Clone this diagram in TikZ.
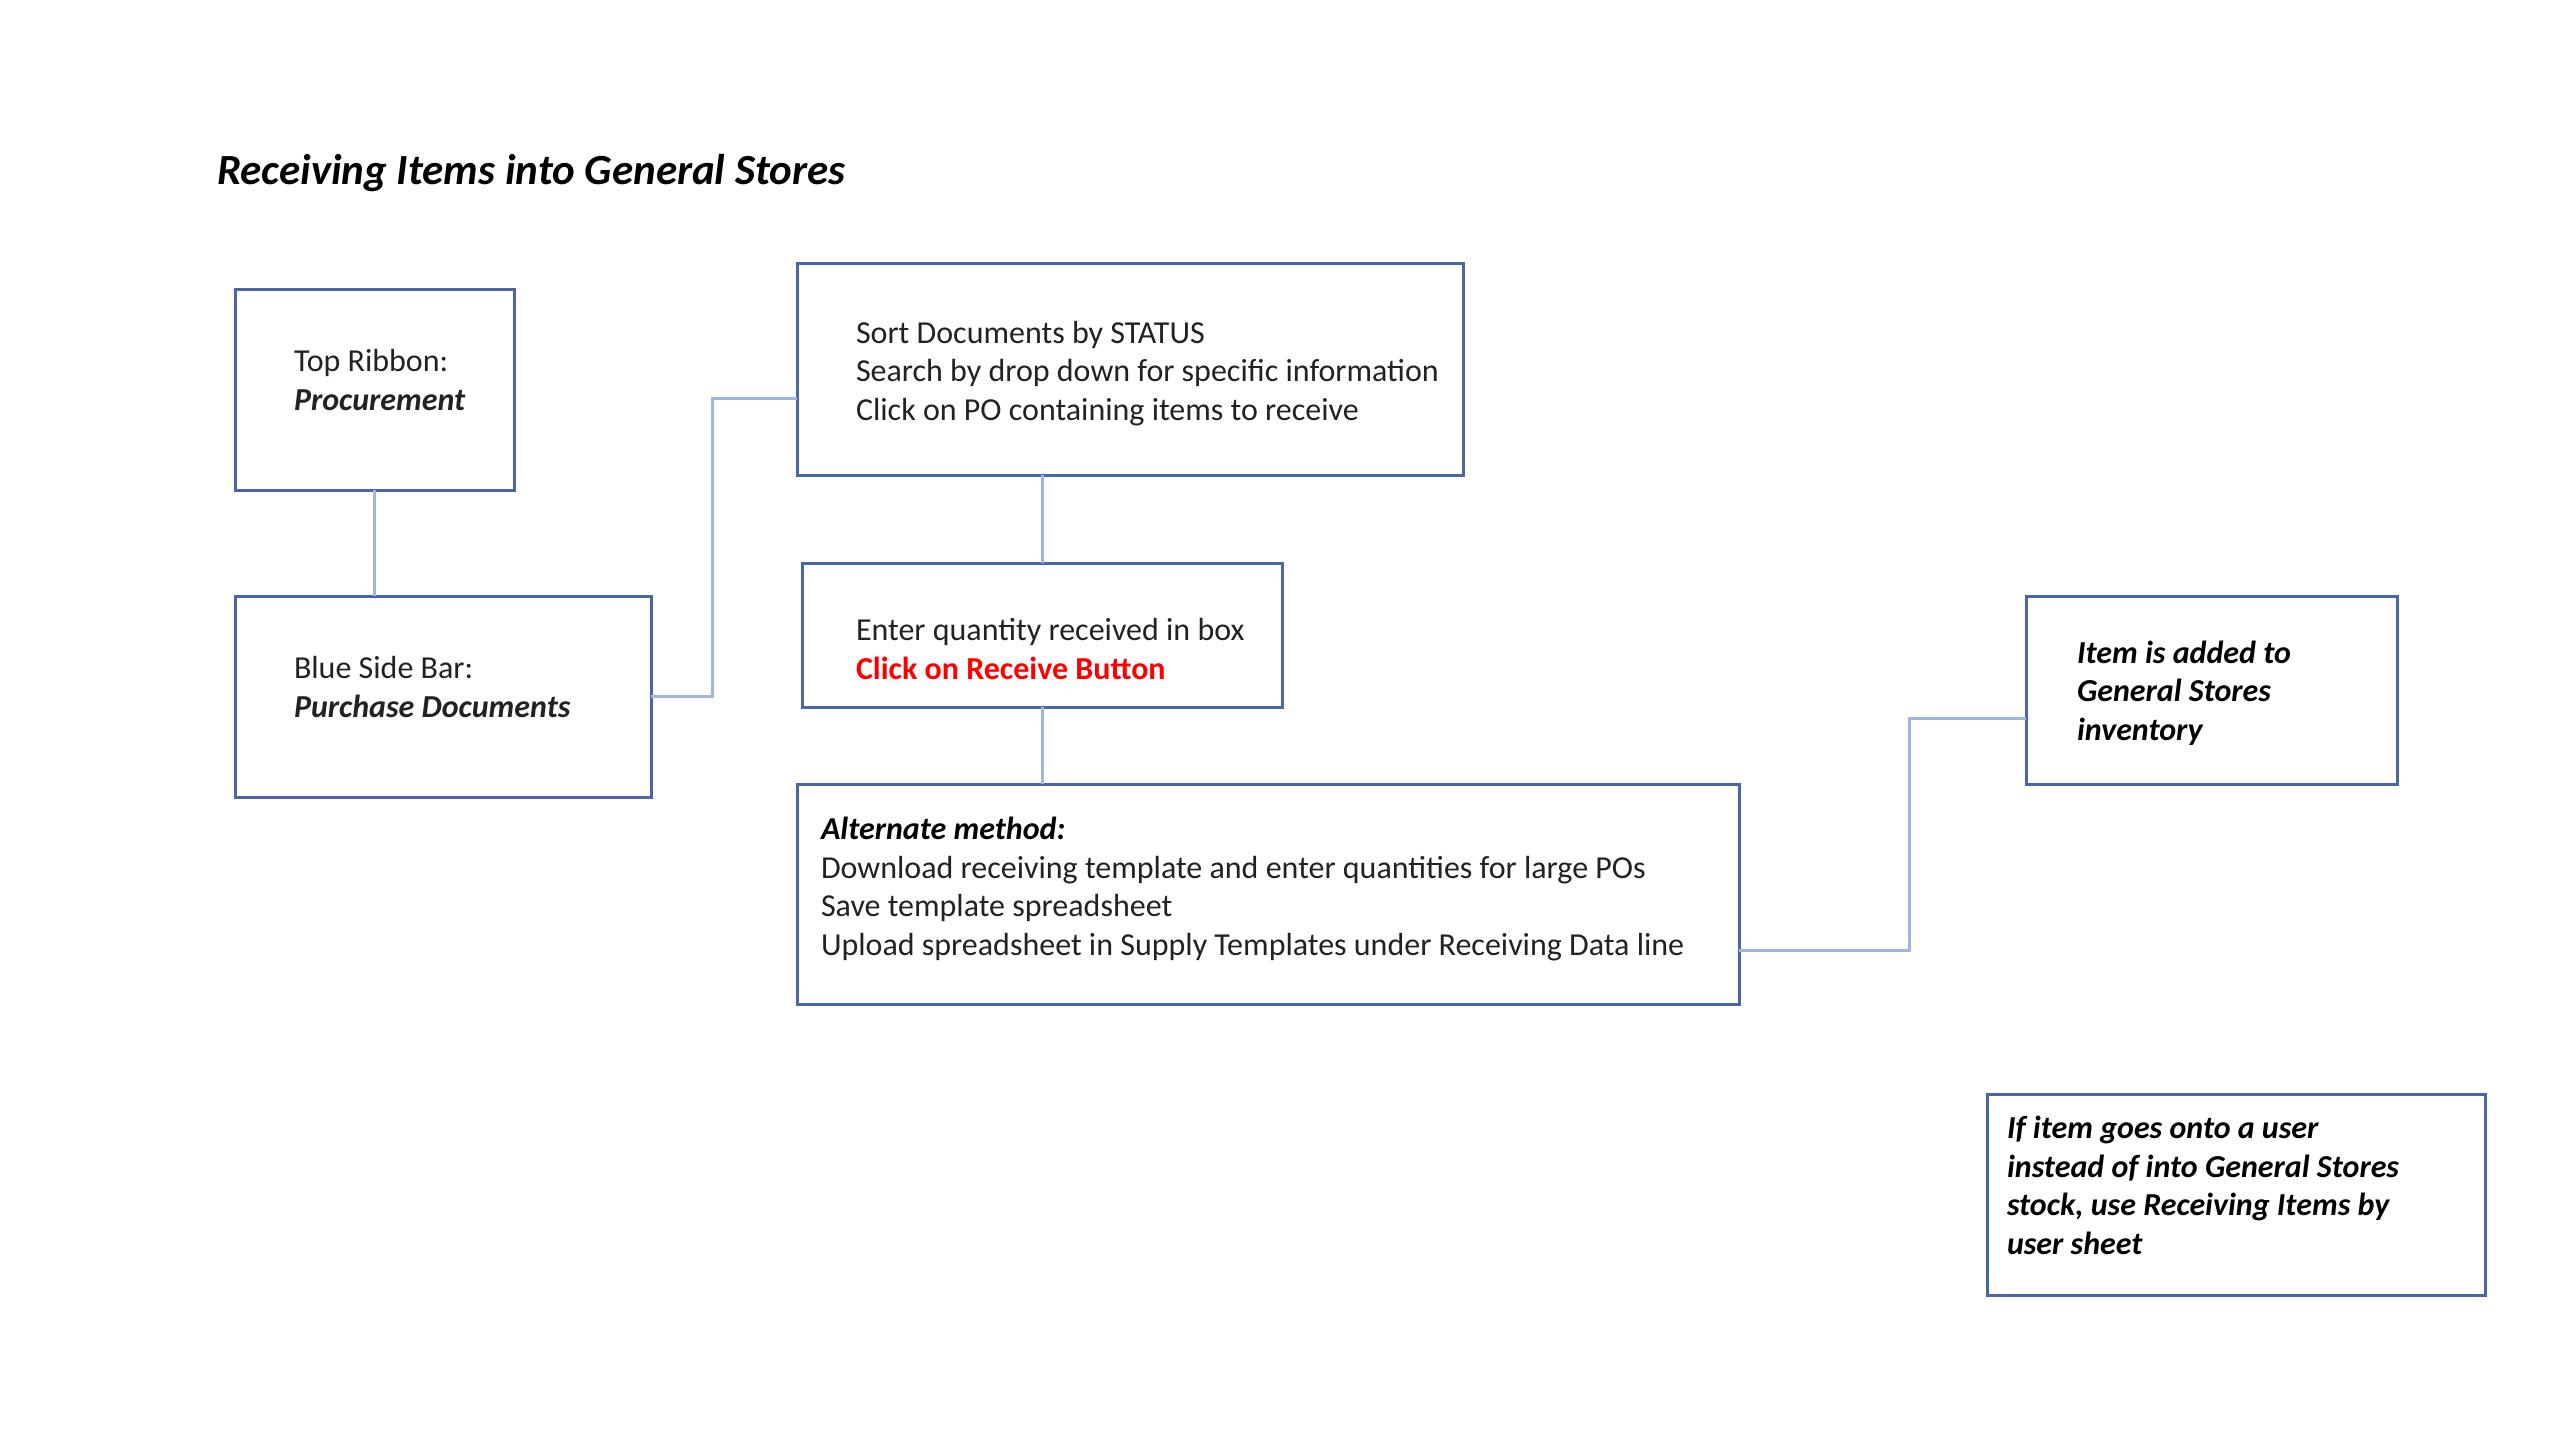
\documentclass[tikz,border=0pt]{standalone}
\usepackage{fontspec}
\setmainfont{Carlito}
\definecolor{boxc}{HTML}{4A66A6}
\definecolor{linec}{HTML}{9FB6E2}
\definecolor{txtc}{HTML}{222222}
\begin{document}
\begin{tikzpicture}[x=1pt,y=-1pt,
  box/.style={draw=boxc, line width=3pt, inner sep=0pt, outer sep=0pt, fill=white},
  conn/.style={draw=linec, line width=3pt},
  lbl/.style={anchor=base west, inner sep=0pt, outer sep=0pt, align=left, text=txtc,
    font=\fontsize{32}{38.5}\selectfont},
  bi/.style={font=\fontsize{32}{38.5}\selectfont\bfseries\itshape, text=black}
]
\useasboundingbox[fill=white] (0,0) rectangle (2560,1440);

\node[anchor=base west, inner sep=0pt, font=\fontsize{43}{50}\selectfont\bfseries\itshape] (title) at (217,184) {Receiving Items into General Stores};

\node[box, minimum width=279pt, minimum height=201pt] (tr) at (374.5,389.5) {};
\node[box, minimum width=416pt, minimum height=201pt] (bs) at (443,696.5) {};
\node[box, minimum width=666pt, minimum height=212pt] (sd) at (1130,369) {};
\node[box, minimum width=480pt, minimum height=144pt] (eq) at (1042,635) {};
\node[box, minimum width=942pt, minimum height=220pt] (am) at (1268,894) {};
\node[box, minimum width=371pt, minimum height=188pt] (ia) at (2211.5,690) {};
\node[box, minimum width=498pt, minimum height=201pt] (nt) at (2236,1194.5) {};

\node[lbl] (trt) at (294,410) {Top Ribbon:\\\textbf{\textit{Procurement}}};
\node[lbl] (bst) at (294,717) {Blue Side Bar:\\\textbf{\textit{Purchase Documents}}};
\node[lbl] (sdt) at (856,420) {Sort Documents by STATUS\\Search by drop down for specific information\\Click on PO containing items to receive};
\node[lbl] (eqt) at (856,679) {Enter quantity received in box\\\textcolor{red}{\textbf{Click on Receive Button}}};
\node[lbl] (amt) at (821,955) {\textcolor{black}{\textbf{\textit{Alternate method:}}}\\Download receiving template and enter quantities for large POs\\Save template spreadsheet\\Upload spreadsheet in Supply Templates under Receiving Data line};
\node[lbl, bi] (iat) at (2077,740) {Item is added to\\General Stores\\inventory};
\node[lbl, bi] (ntt) at (2007,1254) {If item goes onto a user\\instead of into General Stores\\stock, use Receiving Items by\\user sheet};

\draw[conn] (tr.south) -- (tr.south |- bs.north);
\draw[conn] (bs.east) -- ++(61,0) |- ([yshift=-29pt]sd.west);
\draw[conn] (eq.north) -- (eq.north |- sd.south);
\draw[conn] (eq.south) -- (eq.south |- am.north);
\draw[conn] ([yshift=-56pt]am.east) -| ([xshift=-117pt,yshift=-28pt]ia.west) -- ([yshift=-28pt]ia.west);
\end{tikzpicture}
\end{document}
